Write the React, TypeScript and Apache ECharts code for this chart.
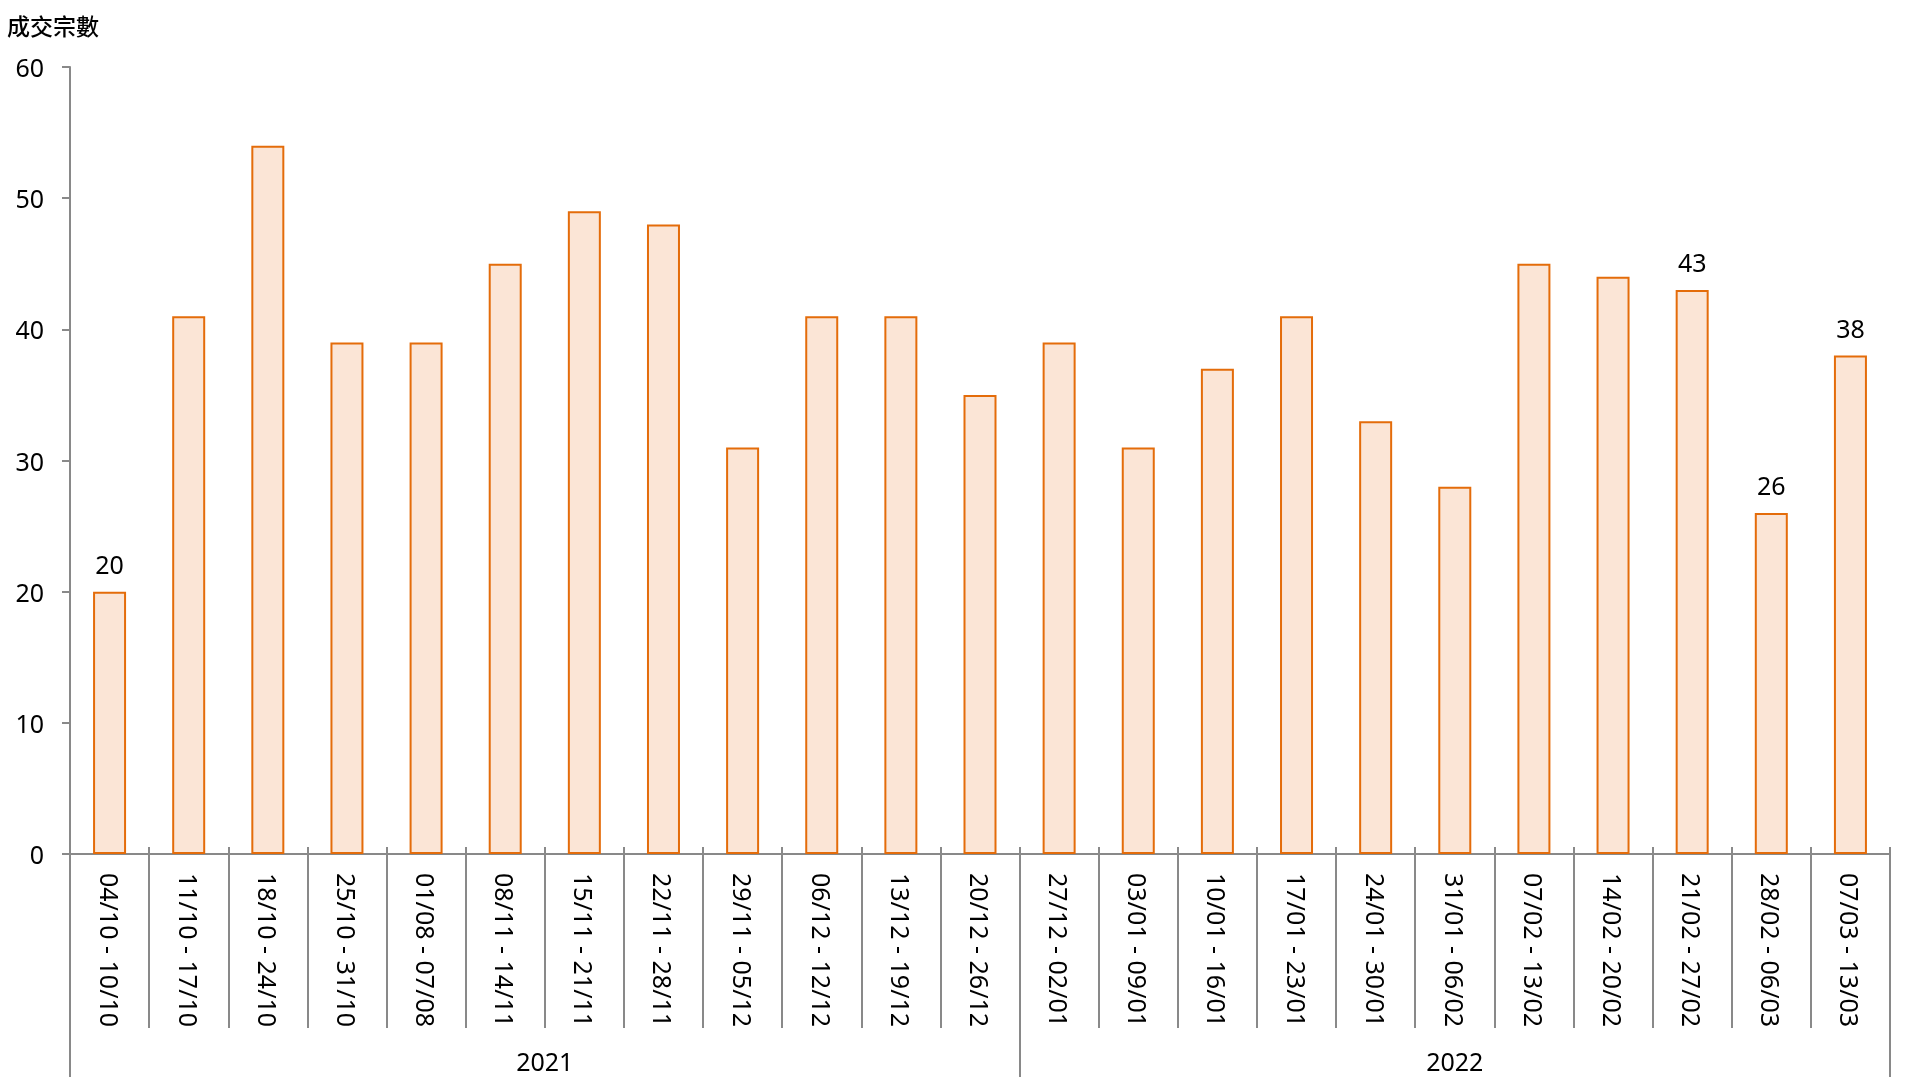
import React, { useEffect, useRef } from "react";
import * as echarts from "echarts";

const categories = [
  "04/10 - 10/10", "11/10 - 17/10", "18/10 - 24/10", "25/10 - 31/10", "01/08 - 07/08",
  "08/11 - 14/11", "15/11 - 21/11", "22/11 - 28/11", "29/11 - 05/12", "06/12 - 12/12",
  "13/12 - 19/12", "20/12 - 26/12", "27/12 - 02/01", "03/01 - 09/01", "10/01 - 16/01",
  "17/01 - 23/01", "24/01 - 30/01", "31/01 - 06/02", "07/02 - 13/02", "14/02 - 20/02",
  "21/02 - 27/02", "28/02 - 06/03", "07/03 - 13/03",
];
const values = [20, 41, 54, 39, 39, 45, 49, 48, 31, 41, 41, 35, 39, 31, 37, 41, 33, 28, 45, 44, 43, 26, 38];
const labeledIndices = [0, 20, 21, 22];
const years = ["2021", "2022"];
const yearCounts = [12, 11];
const yTicks = { min: 0, max: 60, interval: 10 };
const yTitle = "成交宗數";

const GRAY = "#898989";
const FONT = "'Noto Sans', 'Open Sans', sans-serif";
const FS = 25;

export default function App() {
  const ref = useRef<HTMLDivElement>(null);
  useEffect(() => {
    if (!ref.current) return;
    const chart = echarts.init(ref.current, undefined, { renderer: "svg" });
    const boundaries: number[] = [0];
    const mids: number[] = [];
    let acc = 0;
    yearCounts.forEach((c) => {
      mids.push(acc + c / 2);
      acc += c;
      boundaries.push(acc);
    });
    const n = categories.length;
    chart.setOption({
      animation: false,
      title: {
        text: yTitle,
        left: 2,
        top: 8,
        textStyle: { fontFamily: "'Noto Sans CJK TC', sans-serif", fontSize: 23, fontWeight: 500, color: "#000" },
      },
      grid: { left: 70, right: 30, top: 67, bottom: 226, containLabel: false },
      xAxis: [
        {
          type: "category",
          data: categories,
          position: "bottom",
          axisLine: { show: true, lineStyle: { color: GRAY, width: 2 } },
          axisTick: { show: true, interval: 0, length: 174, lineStyle: { color: GRAY, width: 2 } },
          axisLabel: { interval: 0, rotate: -90, margin: 19, fontSize: FS, color: "#000", fontFamily: FONT },
          splitLine: { show: false },
        },
        {
          type: "category",
          data: categories,
          position: "bottom",
          axisLine: { show: false },
          axisTick: { show: true, interval: 0, inside: true, length: 7, lineStyle: { color: GRAY, width: 2 } },
          axisLabel: { show: false },
          splitLine: { show: false },
        },
        {
          type: "value",
          min: 0,
          max: n,
          position: "bottom",
          axisLine: { show: false },
          splitLine: { show: false },
          axisTick: { show: true, customValues: boundaries, length: 223, lineStyle: { color: GRAY, width: 2 } },
          axisLabel: {
            show: true,
            customValues: mids,
            margin: 194,
            fontSize: FS,
            color: "#000",
            fontFamily: FONT,
            formatter: (v: number) => {
              const i = mids.findIndex((m) => Math.abs(m - v) < 1e-6);
              return i >= 0 ? years[i] : "";
            },
          },
        },
      ],
      yAxis: {
        type: "value",
        min: yTicks.min,
        max: yTicks.max,
        interval: yTicks.interval,
        axisLine: { show: true, lineStyle: { color: GRAY, width: 2 } },
        axisTick: { show: true, length: 8, lineStyle: { color: GRAY, width: 2 } },
        axisLabel: { fontSize: FS, color: "#000", margin: 26, fontFamily: FONT },
        splitLine: { show: false },
      },
      series: [
        {
          type: "bar",
          xAxisIndex: 0,
          barWidth: 33,
          data: values.map((v, i) => ({
            value: v,
            label: {
              show: labeledIndices.includes(i),
              position: "top",
              distance: 15,
              fontSize: FS,
              color: "#000",
              fontFamily: FONT,
            },
          })),
          itemStyle: { color: "#FBE5D6", borderColor: "#E46C0A", borderWidth: 2 },
        },
      ],
    });
    return () => chart.dispose();
  }, []);
  return <div ref={ref} style={{ position: "fixed", left: 0, top: 0, width: 1920, height: 1080 }} />;
}
